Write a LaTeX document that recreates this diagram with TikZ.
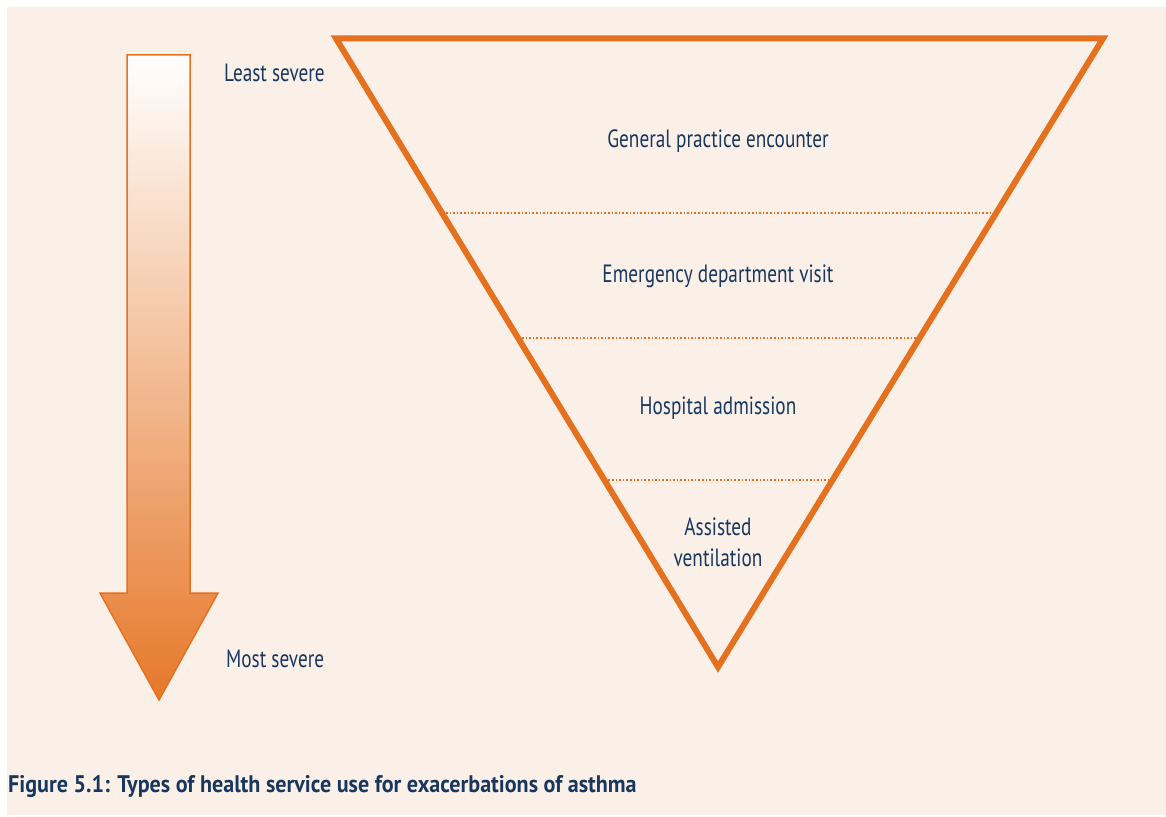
\documentclass[tikz,border=0pt]{standalone}
\usepackage{fontspec}
\setmainfont{PT Sans}[FakeStretch=0.77]
\newfontfamily\capfont{PT Sans}[FakeStretch=0.92]
\usetikzlibrary{shadings,calc}
\definecolor{bgc}{HTML}{FBF0E8}
\definecolor{org}{HTML}{E5711F}
\definecolor{navy}{HTML}{17375E}
\tikzset{
  lbl/.style={text=navy, font=\fontsize{25}{30}\selectfont, inner sep=0pt, align=center},
  sep/.style={draw=org, line width=1.6pt, dotted},
}
\begin{document}
\begin{tikzpicture}[x=1pt,y=-1pt]
\useasboundingbox (0,0) rectangle (1166,816);
\fill[bgc] (7,7) rectangle (1166,815);
% arrow
\shade[top color=white, bottom color=org!95, draw=org, line width=1.5pt, line join=miter]
  (127,55) -- (190,55) -- (190,593) -- (218,593) -- (159,700) -- (100,593) -- (127,593) -- cycle;
% triangle
\coordinate (tl) at (336,38.5);
\coordinate (tr) at (1103,38.5);
\coordinate (bt) at (718,667);
\draw[org, line width=6pt, line join=miter] (tl) -- (tr) -- (bt) -- cycle;
% separators
\foreach \yy/\nm in {213/a,338/b,480/c}{
  \coordinate (l\nm) at ($(tl)!{(\yy-38.5)/628.5}!(bt)$);
  \coordinate (r\nm) at ($(tr)!{(\yy-38.5)/628.5}!(bt)$);
  \draw[sep] ([xshift=4pt]l\nm) -- ([xshift=-4pt]r\nm);
}
\node[lbl] (t1) at (718,141) {General practice encounter};
\node[lbl] (t2) at (718,276) {Emergency department visit};
\node[lbl] (t3) at (718,408) {Hospital admission};
\node[lbl, text width=150pt, font=\fontsize{25}{31}\selectfont] (t4) at (718,542) {Assisted\\ventilation};
\node[lbl, anchor=west] (ls) at (224,73) {Least severe};
\node[lbl, anchor=west] (ms) at (226,659) {Most severe};
\node[lbl, anchor=west, font=\capfont\fontsize{24}{28}\selectfont\bfseries] (cap) at (8,786) {Figure 5.1: Types of health service use for exacerbations of asthma};
\end{tikzpicture}
\end{document}
